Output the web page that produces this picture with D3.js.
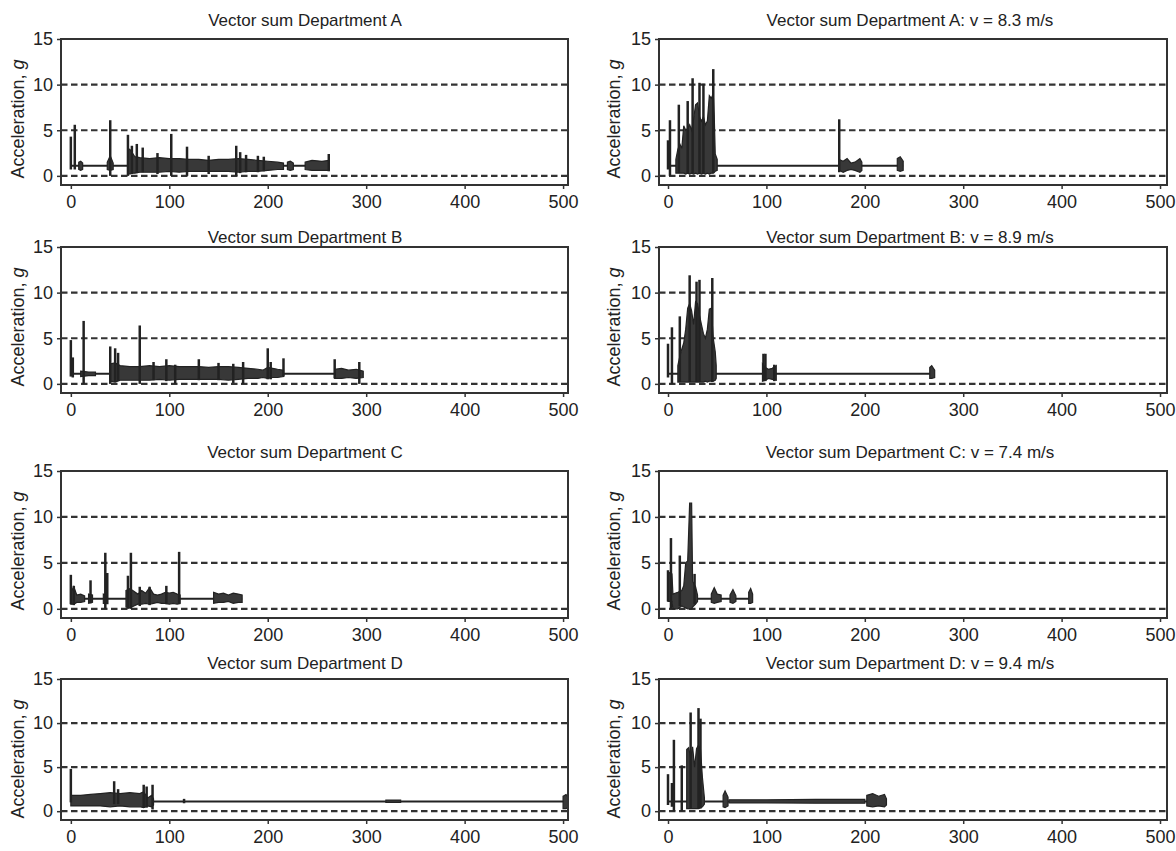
<!DOCTYPE html>
<html lang="en">
<head>
<meta charset="utf-8">
<title>Vector sum acceleration</title>
<script src="https://cdnjs.cloudflare.com/ajax/libs/d3/7.8.5/d3.min.js"></script>
<style>
  body { margin: 0; background: #fff; }
  svg text { font-family: "Liberation Sans", Arial, sans-serif; fill: #222; }
</style>
</head>
<body>
<svg id="chart" width="1176" height="851"></svg>
<script>

// ticks and reference lines
var xTicks = [0, 100, 200, 300, 400, 500];
var yTicks = [0, 5, 10, 15];
var refLines = [0, 5, 10];
var baseLevel = 1.1;

var departments = ["A", "B", "C", "D"];
var speeds = ["8.3", "8.9", "7.4", "9.4"];

// start / end of the resting line (~1 g)
var spansLeft = [[0, 263], [0, 297], [0, 174], [0, 505]];
var spansRight = [[0, 239], [0, 270], [0, 85], [0, 222]];

// dense parts of the signal as envelopes: [time, low, high]
// single peaks as [time, low, high]
var bandsA = [
  [[8, 0.7, 1.5], [10, 0.6, 1.6], [12, 0.7, 1.4]],
  [[37, 0.7, 1.5], [40, 0.6, 2.2], [43, 0.7, 1.4]],
  [[58, 0.3, 3.0], [60, 0.2, 2.9], [62, 0.3, 2.6], [65, 0.3, 2.1], [70, 0.4, 2.0], [80, 0.4, 1.9], [90, 0.4, 2.0],
   [100, 0.5, 1.9], [110, 0.4, 1.9], [120, 0.5, 1.8], [130, 0.5, 1.8], [140, 0.5, 1.7], [150, 0.5, 1.8],
   [160, 0.5, 1.8], [170, 0.4, 1.9], [180, 0.5, 1.8], [190, 0.5, 1.7], [200, 0.6, 1.6], [210, 0.7, 1.5], [216, 0.7, 1.4]],
  [[220, 0.7, 1.5], [223, 0.6, 1.6], [226, 0.7, 1.4]],
  [[238, 0.7, 1.5], [245, 0.6, 1.7], [255, 0.6, 1.6], [262, 0.6, 1.7]]
];
var spikesA = [[0, 0.7, 4.3], [4, 0.7, 5.6], [40, 0, 6.1], [58, 0, 4.5], [62, 0.2, 3.3], [67, 0.3, 3.5],
  [73, 0.4, 3.1], [88, 0.2, 2.5], [102, 0, 4.6], [118, 0, 3.2], [140, 0.2, 2.2], [168, 0, 3.3],
  [172, 0.3, 2.6], [178, 0.4, 2.3], [190, 0.4, 2.2], [196, 0.5, 2.1], [262, 0.5, 2.4]];

var bandsAv = [
  [[8, 0.3, 1.8], [10, 0.3, 2.9], [12, 0.3, 3.5], [14, 0.3, 3.0], [16, 0.3, 5.5], [18, 0.2, 5.0], [20, 0.3, 5.2],
   [22, 0.2, 5.6], [24, 0.3, 5.0], [26, 0.2, 6.2], [28, 0.3, 7.8], [30, 0.2, 8.0], [32, 0.3, 6.5], [34, 0.2, 6.0],
   [36, 0.3, 6.5], [38, 0.2, 5.6], [40, 0.3, 6.0], [42, 0.2, 8.8], [44, 0.3, 8.5], [46, 0.3, 9.0], [47, 0.4, 6.5],
   [48, 0.5, 2.4], [50, 0.6, 1.8]],
  [[174, 0.6, 1.8], [178, 0.4, 1.6], [182, 0.6, 1.9], [186, 0.7, 1.4], [190, 0.6, 1.5], [195, 0.4, 1.9], [197, 0.6, 1.5]],
  [[233, 0.6, 1.9], [236, 0.5, 2.1], [239, 0.6, 1.6]]
];
var spikesAv = [[0, 0.7, 3.9], [2, 0, 6.1], [11, 0.3, 7.8], [20, 0.3, 8.2], [25, 0.3, 10.7], [32, 0.3, 10.2],
  [36, 0.3, 10.1], [46, 0.3, 11.7], [174, 0.4, 6.2]];

var bandsB = [
  [[10, 0.8, 1.4], [18, 0.9, 1.3], [25, 0.9, 1.3]],
  [[40, 0.3, 2.2], [45, 0.2, 2.3], [50, 0.4, 2.0], [60, 0.4, 1.9], [70, 0.4, 1.9], [80, 0.4, 2.0], [90, 0.5, 1.9],
   [100, 0.4, 2.0], [110, 0.5, 1.9], [120, 0.5, 1.9], [130, 0.5, 1.9], [140, 0.5, 1.8], [150, 0.5, 1.9],
   [160, 0.4, 1.9], [170, 0.5, 1.8], [180, 0.6, 1.7], [190, 0.6, 1.6], [195, 0.7, 1.5], [200, 0.6, 1.8],
   [205, 0.7, 1.7], [210, 0.7, 1.6], [216, 0.8, 1.5]],
  [[268, 0.6, 1.6], [275, 0.6, 1.7], [282, 0.7, 1.5], [290, 0.6, 1.6], [297, 0.7, 1.4]]
];
var spikesB = [[0, 0.8, 4.8], [2, 0.7, 2.9], [13, 0, 6.9], [40, 0, 4.1], [45, 0.2, 3.9], [48, 0.3, 3.4],
  [70, 0, 6.4], [84, 0.4, 2.4], [97, 0.3, 2.7], [106, 0, 2.1], [130, 0.4, 2.7], [150, 0.4, 2.3],
  [165, 0.1, 2.2], [175, 0, 2.4], [200, 0.5, 3.9], [203, 0.5, 2.4], [216, 0.8, 2.8], [268, 0.6, 2.7], [293, 0, 2.4]];

var bandsBv = [
  [[10, 0.2, 2.0], [12, 0.2, 3.0], [14, 0.2, 3.8], [16, 0.2, 4.5], [18, 0.2, 6.0], [20, 0.2, 8.3], [22, 0.2, 8.8],
   [24, 0.2, 8.0], [26, 0.2, 6.5], [28, 0.2, 9.0], [30, 0.2, 8.8], [32, 0.2, 7.5], [34, 0.2, 6.5], [36, 0.2, 5.5],
   [38, 0.3, 5.0], [40, 0.2, 6.0], [42, 0.3, 8.2], [44, 0.3, 8.3], [46, 0.3, 5.0], [48, 0.4, 3.5], [49, 0.6, 2.0]],
  [[96, 0.3, 2.2], [99, 0.4, 1.8], [102, 0.6, 1.6], [106, 0.5, 1.7], [110, 0.4, 2.0]],
  [[266, 0.6, 1.8], [268, 0.6, 2.0], [271, 0.7, 1.5]]
];
var spikesBv = [[0, 0.7, 4.4], [4, 0, 6.2], [12, 0.2, 7.4], [22, 0.2, 11.9], [29, 0.2, 11.2], [32, 0.2, 11.4],
  [45, 0.2, 11.6], [97, 0.3, 3.3], [99, 0.3, 3.3], [108, 0.3, 2.1]];

var bandsC = [
  [[0, 0.5, 1.8], [3, 0.5, 2.4], [6, 0.7, 1.5], [10, 0.7, 1.6], [14, 0.8, 1.4]],
  [[18, 0.6, 1.6], [22, 0.7, 1.5]],
  [[33, 0.6, 1.6], [37, 0.6, 1.5]],
  [[56, 0.2, 2.0], [60, 0.1, 2.2], [64, 0.3, 1.9], [68, 0.5, 1.6], [72, 0.5, 2.0], [76, 0.6, 1.7], [80, 0.5, 2.3],
   [84, 0.6, 1.6], [88, 0.7, 1.5], [92, 0.6, 1.6], [96, 0.6, 1.8], [100, 0.5, 1.7], [104, 0.6, 1.8], [108, 0.5, 1.6], [111, 0.6, 1.5]],
  [[145, 0.6, 1.8], [150, 0.7, 1.6], [155, 0.7, 1.7], [160, 0.8, 1.5], [165, 0.6, 1.7], [170, 0.7, 1.6], [174, 0.7, 1.5]]
];
var spikesC = [[0, 0.5, 3.7], [3, 0.4, 2.5], [20, 0.6, 3.1], [35, 0, 6.1], [37, 0.5, 3.9], [58, 0, 3.6],
  [61, 0, 6.1], [70, 0.3, 2.4], [80, 0.4, 2.4], [97, 0.5, 2.5], [110, 0.5, 6.2]];

var bandsCv = [
  [[0, 0.8, 4.0], [4, 0.8, 3.8], [5, 0, 1.6], [10, 0, 1.8], [14, 0.3, 2.0], [16, 0.2, 2.5], [18, 0.1, 5.0],
   [20, 0, 5.2], [22, 0, 11.5], [24, 0, 11.5], [25, 0.2, 3.0], [28, 0.5, 2.4], [30, 0.8, 1.5]],
  [[44, 0.7, 1.6], [47, 0.6, 2.3], [50, 0.7, 1.6], [54, 0.8, 1.5]],
  [[63, 0.7, 1.5], [66, 0.6, 2.1], [69, 0.8, 1.4]],
  [[82, 0.6, 1.8], [84, 0.6, 2.2], [86, 0.7, 1.6]]
];
var spikesCv = [[0, 0.8, 4.2], [3, 0, 7.7], [12, 0.3, 5.8], [27, 0.5, 3.8]];

var bandsD = [
  [[0, 0.6, 1.8], [10, 0.6, 1.8], [20, 0.6, 1.9], [30, 0.6, 2.0], [40, 0.5, 2.1], [50, 0.6, 2.0], [60, 0.5, 2.1],
   [70, 0.5, 2.0], [74, 0.4, 2.2], [78, 0.6, 1.5], [82, 0.5, 1.8], [84, 0.7, 1.4]],
  [[320, 1.0, 1.25], [335, 1.0, 1.25]],
  [[500, 0.3, 1.7], [503, 0.3, 1.9], [505, 0.4, 1.6]]
];
var spikesD = [[0, 1, 4.8], [44, 0.8, 3.4], [48, 0.8, 2.5], [74, 0.4, 3.0], [77, 0.4, 2.8], [83, 0.2, 3.0], [115, 0.9, 1.4]];

var bandsDv = [
  [[19, 0.3, 7.0], [21, 0.3, 7.2], [23, 0.3, 6.0], [25, 0.3, 7.3], [27, 0.3, 5.0], [29, 0.3, 7.1], [31, 0.3, 7.5],
   [33, 0.4, 7.0], [35, 0.5, 3.8], [37, 0.8, 1.5]],
  [[56, 0.5, 1.8], [58, 0.4, 2.3], [61, 0.6, 1.6]],
  [[62, 0.95, 1.3], [100, 0.95, 1.3], [150, 0.9, 1.35], [200, 0.9, 1.35]],
  [[202, 0.6, 1.8], [208, 0.5, 2.0], [214, 0.6, 1.7], [220, 0.5, 1.9], [222, 0.7, 1.4]]
];
var spikesDv = [[0, 0.7, 4.2], [4, 0.5, 3.2], [6, 0, 8.1], [14, 0, 5.2], [23, 0.3, 11.2], [31, 0.3, 11.7], [33, 0.3, 10.5]];

// layout
var rowTop = [39, 247, 471, 679];
var rowH = [146, 146, 147, 141];
var titleBase = [26, 243, 458, 669];
var cols = [
  { x0: 61, x1: 568, dom: [-10, 505], labelX: 24, titleX: 305 },
  { x0: 659, x1: 1167, dom: [-9.15, 507.1], labelX: 620, titleX: 910 }
];

var leftBands = [bandsA, bandsB, bandsC, bandsD];
var leftSpikes = [spikesA, spikesB, spikesC, spikesD];
var rightBands = [bandsAv, bandsBv, bandsCv, bandsDv];
var rightSpikes = [spikesAv, spikesBv, spikesCv, spikesDv];

var panels = [];
departments.forEach(function(dep, i) {
  panels.push({ row: i, col: 0, title: "Vector sum Department " + dep,
    span: spansLeft[i], bands: leftBands[i], spikes: leftSpikes[i] });
  panels.push({ row: i, col: 1, title: "Vector sum Department " + dep + ": v = " + speeds[i] + " m/s",
    span: spansRight[i], bands: rightBands[i], spikes: rightSpikes[i] });
});

var svg = d3.select("#chart");

panels.forEach(function(p) {
  var c = cols[p.col], top = rowTop[p.row], h = rowH[p.row];
  var x = d3.scaleLinear().domain(c.dom).range([c.x0, c.x1]);
  var y = d3.scaleLinear().domain([-1, 15]).range([top + h, top]);
  var g = svg.append("g");

  // dashed reference lines
  g.selectAll("line.ref").data(refLines).join("line")
    .attr("class", "ref")
    .attr("x1", c.x0).attr("x2", c.x1)
    .attr("y1", function(d) { return y(d); })
    .attr("y2", function(d) { return y(d); })
    .attr("stroke", "#333").attr("stroke-width", 2.2)
    .attr("stroke-dasharray", "6.5,3.5");

  // resting line
  g.append("line")
    .attr("x1", x(p.span[0])).attr("x2", x(p.span[1]))
    .attr("y1", y(baseLevel)).attr("y2", y(baseLevel))
    .attr("stroke", "#222").attr("stroke-width", 2);

  var area = d3.area()
    .x(function(d) { return x(d[0]); })
    .y0(function(d) { return y(d[1]); })
    .y1(function(d) { return y(d[2]); });

  g.selectAll("path.band").data(p.bands).join("path")
    .attr("class", "band")
    .attr("d", area)
    .attr("fill", "#383838")
    .attr("stroke", "#222").attr("stroke-width", 1.2);

  g.selectAll("line.spike").data(p.spikes).join("line")
    .attr("class", "spike")
    .attr("x1", function(d) { return x(d[0]); })
    .attr("x2", function(d) { return x(d[0]); })
    .attr("y1", function(d) { return y(d[1]); })
    .attr("y2", function(d) { return y(d[2]); })
    .attr("stroke", "#222").attr("stroke-width", 2.5);

  // frame
  g.append("rect")
    .attr("x", c.x0).attr("y", top)
    .attr("width", c.x1 - c.x0).attr("height", h)
    .attr("fill", "none").attr("stroke", "#333").attr("stroke-width", 2);

  var xAxis = g.append("g")
    .attr("transform", "translate(0," + (top + h) + ")")
    .call(d3.axisBottom(x).tickValues(xTicks).tickSize(4).tickPadding(6));
  var yAxis = g.append("g")
    .attr("transform", "translate(" + c.x0 + ",0)")
    .call(d3.axisLeft(y).tickValues(yTicks).tickSize(4).tickPadding(4));

  [xAxis, yAxis].forEach(function(a) {
    a.attr("font-size", 18).attr("font-family", null);
    a.select(".domain").remove();
    a.selectAll(".tick line").attr("stroke", "#333").attr("stroke-width", 1.5);
    a.selectAll(".tick text").attr("fill", "#222");
  });

  g.append("text")
    .attr("x", c.titleX).attr("y", titleBase[p.row])
    .attr("text-anchor", "middle").attr("font-size", 17)
    .text(p.title);

  var lab = g.append("text")
    .attr("transform", "translate(" + c.labelX + "," + (top + 80) + ") rotate(-90)")
    .attr("text-anchor", "middle").attr("font-size", 18);
  lab.append("tspan").text("Acceleration, ");
  lab.append("tspan").attr("font-style", "italic").text("g");
});

</script>
</body>
</html>
